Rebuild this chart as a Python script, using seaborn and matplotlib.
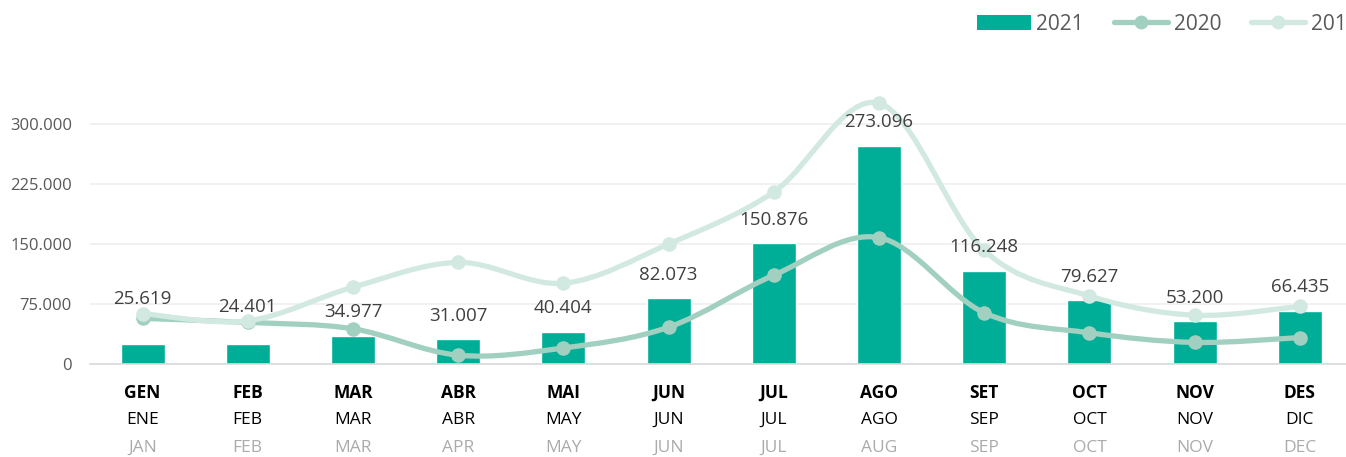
import matplotlib
matplotlib.use("Agg")
import matplotlib.pyplot as plt
from matplotlib.path import Path
from matplotlib.patches import PathPatch, Patch
from matplotlib.lines import Line2D
from matplotlib.ticker import FixedLocator, FuncFormatter
import numpy as np
import pandas as pd
import seaborn as sns

# Month labels: Catalan, Spanish, English
months_ca = ["GEN", "FEB", "MAR", "ABR", "MAI", "JUN", "JUL", "AGO", "SET", "OCT", "NOV", "DES"]
months_es = ["ENE", "FEB", "MAR", "ABR", "MAY", "JUN", "JUL", "AGO", "SEP", "OCT", "NOV", "DIC"]
months_en = ["JAN", "FEB", "MAR", "APR", "MAY", "JUN", "JUL", "AUG", "SEP", "OCT", "NOV", "DEC"]

values_2021 = [25619, 24401, 34977, 31007, 40404, 82073, 150876, 273096, 116248, 79627, 53200, 66435]
values_2020 = [57000, 52000, 44000, 11000, 20000, 46000, 111000, 158000, 64000, 39000, 27000, 33000]
values_2019 = [63000, 54000, 96000, 127000, 101000, 150000, 215000, 326000, 142000, 85000, 61000, 72000]

y_ticks = [0, 75000, 150000, 225000, 300000]

BAR = "#00AE98"
C2020 = "#A2D0C0"
C2019 = "#D2E9E1"
TXT = "#595959"

sns.set_theme(style="white")
plt.rcParams["font.family"] = ["Open Sans", "DejaVu Sans"]

W, H, DPI = 1346, 457, 100
fig = plt.figure(figsize=(W / DPI, H / DPI), dpi=DPI)
# plot area runs slightly past the right edge of the canvas
ax = fig.add_axes([90 / W, (H - 364) / H, 1262.4 / W, 272 / H])

df = pd.DataFrame({"month": months_ca, "value": values_2021})
sns.barplot(data=df, x="month", y="value", order=months_ca, color=BAR,
            width=0.42, saturation=1, ax=ax, zorder=2)


def smooth_path(ys):
    """Excel-style smoothed line as a chain of cubic Bezier segments."""
    xs = np.arange(len(ys), dtype=float)
    pts = np.column_stack([xs, np.asarray(ys, dtype=float)])
    n = len(pts)
    verts = [pts[0]]
    codes = [Path.MOVETO]
    for i in range(n - 1):
        p0 = pts[max(i - 1, 0)]
        p1 = pts[i]
        p2 = pts[i + 1]
        p3 = pts[min(i + 2, n - 1)]
        c1 = p1 + (p2 - p0) / 6.0
        c2 = p2 - (p3 - p1) / 6.0
        verts += [c1, c2, p2]
        codes += [Path.CURVE4] * 3
    return Path(verts, codes)


for vals, col, z in [(values_2020, C2020, 3), (values_2019, C2019, 4)]:
    ax.add_patch(PathPatch(smooth_path(vals), fill=False, edgecolor=col,
                           lw=3.8, capstyle="round", joinstyle="round", zorder=z))
    sns.scatterplot(x=np.arange(len(vals)), y=vals, color=col, s=110,
                    linewidth=0, ax=ax, zorder=z, legend=False)


def fmt(v):
    return f"{int(v):,}".replace(",", ".")


# value labels above the bars (first two lifted clear of the lines)
lift = [32, 27] + [17] * 10
for i, v in enumerate(values_2021):
    ax.annotate(fmt(v), xy=(i, v), xytext=(0, lift[i]), textcoords="offset points",
                ha="center", va="center", fontsize=13.5, color="#404040", zorder=6)

ax.set_xlim(-0.5, 11.5)
ax.set_ylim(0, 340000)
ax.set_xlabel("")
ax.set_ylabel("")

ax.yaxis.set_major_locator(FixedLocator(y_ticks))
ax.yaxis.set_major_formatter(FuncFormatter(lambda v, p: fmt(v)))
ax.tick_params(axis="y", length=0, pad=13, labelsize=12, labelcolor=TXT)
ax.grid(axis="y", color="#EFEFEF", lw=1.2, zorder=0)
ax.set_axisbelow(True)

# category boundary ticks along the bottom axis
ax.set_xticks(np.arange(12))
ax.set_xticklabels([""] * 12)
ax.tick_params(axis="x", which="major", length=0)
ax.set_xticks(np.arange(-0.5, 12, 1), minor=True)
ax.tick_params(axis="x", which="minor", length=5, width=1, color="#D9D9D9", direction="out")

for s in ["top", "right", "left"]:
    ax.spines[s].set_visible(False)
ax.spines["bottom"].set_color("#D9D9D9")
ax.spines["bottom"].set_linewidth(1.2)

# three-language month labels
rows = [(months_ca, -21, "bold", "#000000"),
        (months_es, -40, "normal", "#000000"),
        (months_en, -60.5, "normal", "#ABABAB")]
for labels, dy, weight, col in rows:
    for i, lab in enumerate(labels):
        ax.annotate(lab, xy=(i, 0), xycoords=("data", "axes fraction"),
                    xytext=(0, dy), textcoords="offset points", ha="center", va="center",
                    fontsize=12.5, fontweight=weight, color=col, annotation_clip=False)

handles = [
    Patch(facecolor=BAR, edgecolor="none", label="2021"),
    Line2D([0], [0], color=C2020, lw=3.8, marker="o", markersize=10,
           markeredgewidth=0, solid_capstyle="round", label="2020"),
    Line2D([0], [0], color=C2019, lw=3.8, marker="o", markersize=10,
           markeredgewidth=0, solid_capstyle="round", label="2019"),
]
fig.legend(handles=handles, loc="center left",
           bbox_to_anchor=(977 / W, (H - 24) / H), ncol=3, frameon=False,
           fontsize=15, labelcolor=TXT, handlelength=2.6, handletextpad=0.25,
           columnspacing=1.45, borderaxespad=0, borderpad=0)

fig.savefig("out.png", dpi=DPI)
